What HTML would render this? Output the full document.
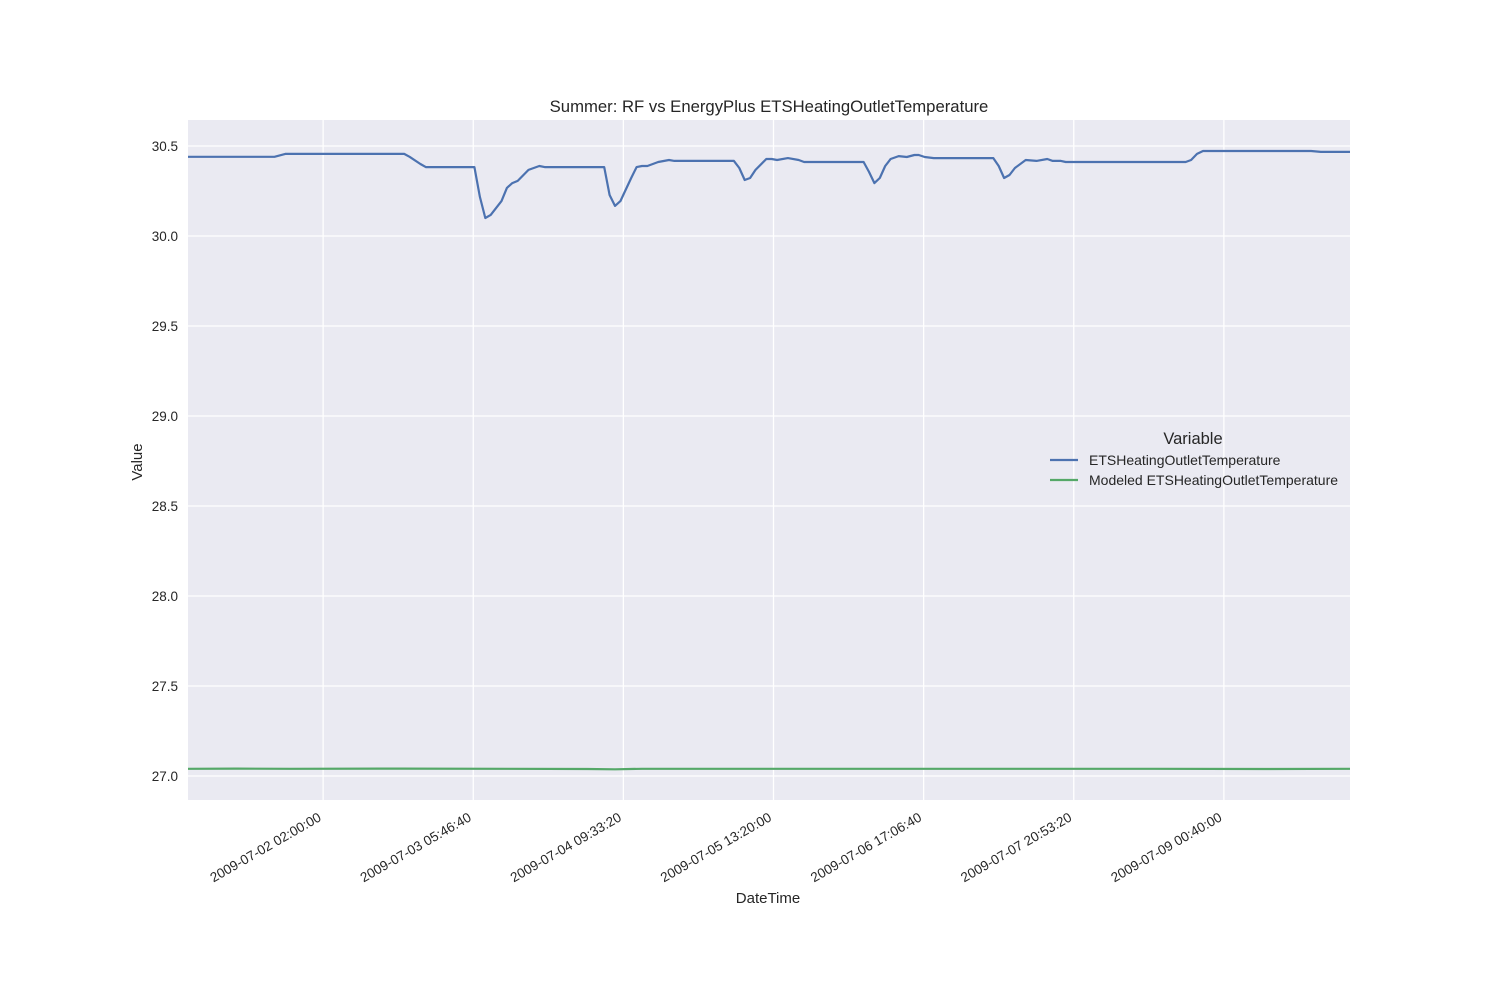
<!DOCTYPE html>
<html><head><meta charset="utf-8"><style>
body{margin:0;background:#fff;font-family:"Liberation Sans","DejaVu Sans",sans-serif}
svg text{font-family:"Liberation Sans","DejaVu Sans",sans-serif;fill:#262626}
</style></head><body>
<svg id="chart" width="1500" height="1000" xmlns="http://www.w3.org/2000/svg">
<rect x="188" y="120" width="1162" height="680" fill="#eaeaf2"/>
<g id="grid"></g><g id="series"></g><g id="axes"></g>
<text x="769" y="112" text-anchor="middle" font-size="16.7">Summer: RF vs EnergyPlus ETSHeatingOutletTemperature</text>
<text x="768" y="903" text-anchor="middle" font-size="15">DateTime</text>
<text x="142" y="462" text-anchor="middle" font-size="15" transform="rotate(-90 142 462)">Value</text>
<g>
<text x="1193" y="444" text-anchor="middle" font-size="16.5">Variable</text>
<line x1="1050" y1="460" x2="1078" y2="460" stroke="#4c72b0" stroke-width="2.2"/>
<text x="1089" y="465" font-size="14">ETSHeatingOutletTemperature</text>
<line x1="1050" y1="480" x2="1078" y2="480" stroke="#55a868" stroke-width="2.2"/>
<text x="1089" y="485" font-size="14">Modeled ETSHeatingOutletTemperature</text>
</g>
</svg>
<script>
const blueHours=[1,17,19,41,42,44,45,54,55,56,57,59,60,61,62,64,66,67,78,79,80,81,83,84,85,86,88,90,91,102,103,104,105,106,108,109,110,112,114,115,126,127,128,129,130,131,132.5,134,135.4,136.2,137.3,139,150,151,152,153,154,156,158,160,161,162.5,163.4,185.6,186.6,187.7,188.8,208.8,210.6,216];
const blueValues=[30.44,30.44,30.456,30.456,30.44,30.40,30.383,30.383,30.217,30.10,30.117,30.194,30.267,30.294,30.306,30.367,30.389,30.383,30.383,30.228,30.167,30.194,30.322,30.383,30.389,30.389,30.411,30.422,30.417,30.417,30.378,30.311,30.322,30.367,30.428,30.428,30.422,30.433,30.422,30.411,30.411,30.356,30.294,30.322,30.389,30.428,30.444,30.439,30.450,30.450,30.439,30.433,30.433,30.389,30.322,30.339,30.378,30.422,30.417,30.428,30.417,30.417,30.411,30.411,30.422,30.456,30.472,30.472,30.467,30.467];
const greenHours=[1,10,20,40,60,75,80,85,100,120,140,160,180,200,216];
const greenValues=[27.04,27.041,27.04,27.041,27.04,27.039,27.037,27.04,27.04,27.04,27.04,27.04,27.04,27.039,27.04];
const yTicks=[27.0,27.5,28.0,28.5,29.0,29.5,30.0,30.5];
const xTickHours=[26,53.7778,81.5556,109.3333,137.1111,164.8889,192.6667];
const xTickLabels=["2009-07-02 02:00:00","2009-07-03 05:46:40","2009-07-04 09:33:20","2009-07-05 13:20:00","2009-07-06 17:06:40","2009-07-07 20:53:20","2009-07-09 00:40:00"];
const X0=188,X1=1350,Y0=120,Y1=800,xMin=1,xMax=216,yMin=26.8667,yMax=30.6444;
const sx=h=>X0+(h-xMin)/(xMax-xMin)*(X1-X0);
const sy=v=>Y1-(v-yMin)/(yMax-yMin)*(Y1-Y0);
const NS="http://www.w3.org/2000/svg";
const grid=document.getElementById('grid'),axes=document.getElementById('axes'),ser=document.getElementById('series');
function mk(tag,attrs,parent){const e=document.createElementNS(NS,tag);for(const k in attrs)e.setAttribute(k,attrs[k]);parent.appendChild(e);return e;}
yTicks.forEach(v=>{
  const l=mk('line',{x1:X0,x2:X1,y1:sy(v),y2:sy(v),stroke:'#fff','stroke-width':1.3},grid);
  
  
  const t=mk('text',{x:X0-10,y:sy(v)+5,'text-anchor':'end','font-size':13.5},axes);
  t.textContent=v.toFixed(1);
  
  
});
xTickHours.forEach((h,i)=>{
  const l=mk('line',{x1:sx(h),x2:sx(h),y1:Y0,y2:Y1,stroke:'#fff','stroke-width':1.3},grid);
  
  
  const x=sx(h)-1,y=Y1+20;
  const t=mk('text',{x:x,y:y,'text-anchor':'end','font-size':13.5,transform:`rotate(-30 ${x} ${y})`},axes);
  t.textContent=xTickLabels[i];
  
  
});
function line(hs,vs,color,name){
  const d=hs.map((h,i)=>(i?'L':'M')+sx(h).toFixed(1)+' '+sy(vs[i]).toFixed(1)).join(' ');
  const p=mk('path',{d:d,fill:'none',stroke:color,'stroke-width':2.2,'stroke-linejoin':'round'},ser);
  
  
}
line(blueHours,blueValues,'#4c72b0','measured-line');
line(greenHours,greenValues,'#55a868','modeled-line');
</script>
</body></html>
